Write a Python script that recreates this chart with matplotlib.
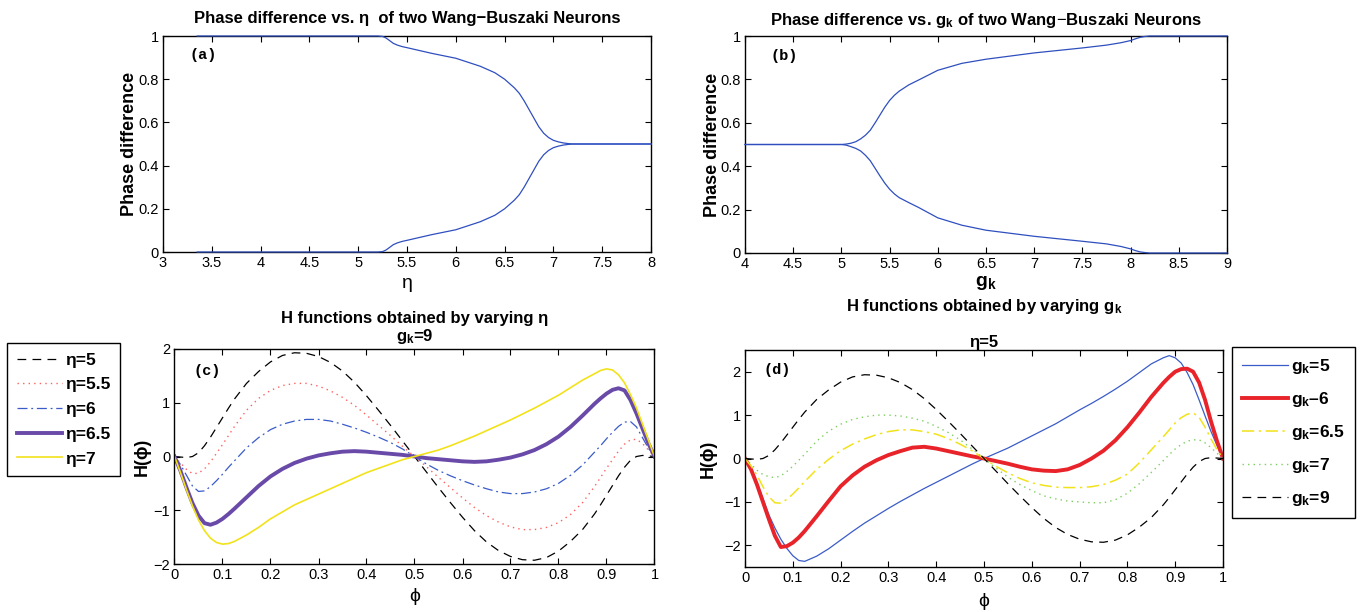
import numpy as np
import matplotlib
matplotlib.use("Agg")
import matplotlib.pyplot as plt
from matplotlib.ticker import FuncFormatter

plt.rcParams['font.family'] = ['Liberation Sans', 'DejaVu Sans']
plt.rcParams['mathtext.fontset'] = 'custom'
plt.rcParams['mathtext.rm'] = 'Liberation Sans'
plt.rcParams['mathtext.bf'] = 'Liberation Sans:bold'
plt.rcParams['mathtext.it'] = 'Liberation Sans:italic'

# ---- (a) phase difference vs eta ----
eta = [3.35, 4.0, 4.5, 5.0, 5.2, 5.25, 5.28, 5.3, 5.33, 5.36, 5.4, 5.45, 5.5, 5.75, 6.0,
       6.25, 6.4, 6.5, 6.6, 6.65, 6.7, 6.75, 6.8, 6.85, 6.9, 6.95, 7.0, 7.05, 7.1, 7.15,
       7.2, 7.5, 8.0]
eta_upper = [1, 1, 1, 1, 1, 0.998, 0.992, 0.986, 0.976, 0.966, 0.958, 0.951, 0.946, 0.92,
             0.897, 0.86, 0.83, 0.8, 0.76, 0.735, 0.7, 0.66, 0.62, 0.58, 0.55, 0.53, 0.517,
             0.51, 0.505, 0.502, 0.5, 0.5, 0.5]
eta_lower = [0, 0, 0, 0, 0, 0.002, 0.008, 0.014, 0.024, 0.034, 0.042, 0.049, 0.054, 0.08,
             0.103, 0.14, 0.17, 0.2, 0.24, 0.265, 0.3, 0.34, 0.38, 0.42, 0.45, 0.47, 0.483,
             0.49, 0.495, 0.498, 0.5, 0.5, 0.5]

# ---- (b) phase difference vs gk ----
gk = [4.0, 4.5, 5.0, 5.05, 5.1, 5.15, 5.2, 5.25, 5.3, 5.35, 5.4, 5.45, 5.5, 5.55, 5.6, 5.7,
      5.8, 6.0, 6.25, 6.5, 7.0, 7.5, 7.75, 7.9, 8.0, 8.05, 8.1, 8.15, 8.2, 8.5, 9.0]
gk_upper = [0.5, 0.5, 0.5, 0.502, 0.506, 0.513, 0.526, 0.543, 0.566, 0.6, 0.636, 0.672,
            0.703, 0.727, 0.746, 0.775, 0.797, 0.842, 0.874, 0.893, 0.922, 0.945, 0.958,
            0.969, 0.979, 0.987, 0.994, 0.998, 1, 1, 1]
gk_lower = [0.5, 0.5, 0.5, 0.497, 0.49, 0.482, 0.47, 0.45, 0.425, 0.39, 0.355, 0.322, 0.294,
            0.272, 0.255, 0.232, 0.21, 0.162, 0.128, 0.105, 0.077, 0.054, 0.042, 0.03, 0.019,
            0.011, 0.005, 0.002, 0, 0, 0]

# ---- H functions (finer sampling near the ends) ----
phi = [0, 0.0125, 0.025, 0.0375, 0.05, 0.0625, 0.075, 0.0875, 0.1, 0.1125, 0.125,
       0.15, 0.175, 0.2, 0.225, 0.25, 0.275, 0.3, 0.325, 0.35, 0.375, 0.4, 0.425, 0.45, 0.475,
       0.5, 0.525, 0.55, 0.575, 0.6, 0.625, 0.65, 0.675, 0.7, 0.725, 0.75, 0.775, 0.8, 0.825,
       0.85, 0.875, 0.8875, 0.9, 0.9125, 0.925, 0.9375, 0.95, 0.9625, 0.975, 0.9875, 1]

H_eta5 = [0, -0.01, -0.02, 0.0, 0.07, 0.2, 0.36, 0.54, 0.72, 0.9, 1.07,
          1.36, 1.58, 1.76, 1.88, 1.93, 1.92, 1.86, 1.75, 1.59, 1.38, 1.13, 0.86, 0.58, 0.29,
          0, -0.29, -0.58, -0.86, -1.13, -1.38, -1.59, -1.75, -1.86, -1.92, -1.93, -1.88, -1.76,
          -1.58, -1.36, -1.07, -0.9, -0.72, -0.54, -0.36, -0.2, -0.07, 0.0, 0.02, 0.01, 0]
H_eta55 = [0, -0.12, -0.24, -0.32, -0.31, -0.23, -0.1, 0.06, 0.22, 0.39, 0.56,
           0.86, 1.08, 1.23, 1.32, 1.36, 1.36, 1.31, 1.22, 1.1, 0.95, 0.77, 0.58, 0.39, 0.19,
           0, -0.19, -0.39, -0.58, -0.77, -0.95, -1.1, -1.22, -1.31, -1.36, -1.36, -1.32, -1.23,
           -1.08, -0.86, -0.56, -0.39, -0.22, -0.06, 0.1, 0.23, 0.31, 0.32, 0.24, 0.12, 0]
H_eta6 = [0, -0.15, -0.35, -0.55, -0.65, -0.64, -0.56, -0.45, -0.33, -0.2, -0.08,
          0.16, 0.35, 0.5, 0.6, 0.66, 0.69, 0.69, 0.66, 0.6, 0.53, 0.45, 0.36, 0.26, 0.14,
          0, -0.14, -0.26, -0.36, -0.45, -0.53, -0.6, -0.66, -0.69, -0.69, -0.66, -0.6, -0.5,
          -0.35, -0.16, 0.08, 0.2, 0.33, 0.45, 0.56, 0.64, 0.65, 0.55, 0.35, 0.15, 0]
H_eta65 = [0, -0.27, -0.58, -0.87, -1.1, -1.24, -1.27, -1.23, -1.16, -1.07, -0.97,
           -0.76, -0.55, -0.37, -0.23, -0.12, -0.04, 0.02, 0.06, 0.09, 0.1, 0.09, 0.07, 0.05,
           0.03, 0, -0.03, -0.05, -0.07, -0.09, -0.1, -0.09, -0.06, -0.02, 0.04, 0.12, 0.23,
           0.37, 0.55, 0.76, 0.98, 1.08, 1.17, 1.24, 1.27, 1.23, 1.05, 0.8, 0.52, 0.24, 0]
H_eta7 = [0, -0.3, -0.62, -0.92, -1.18, -1.38, -1.52, -1.6, -1.63, -1.62, -1.58,
          -1.46, -1.32, -1.16, -1.03, -0.9, -0.8, -0.7, -0.6, -0.5, -0.4, -0.3, -0.22, -0.14,
          -0.06, 0, 0.06, 0.12, 0.2, 0.29, 0.38, 0.48, 0.58, 0.68, 0.79, 0.9, 1.02, 1.14, 1.28,
          1.42, 1.54, 1.6, 1.63, 1.61, 1.52, 1.37, 1.15, 0.9, 0.6, 0.3, 0]

H_gk5 = [0, -0.26, -0.55, -0.92, -1.3, -1.6, -1.86, -2.07, -2.24, -2.35, -2.37,
         -2.25, -2.08, -1.88, -1.68, -1.49, -1.32, -1.15, -0.99, -0.84, -0.69, -0.55, -0.41,
         -0.27, -0.13, 0, 0.12, 0.24, 0.38, 0.52, 0.66, 0.8, 0.96, 1.12, 1.27, 1.43, 1.6, 1.78,
         1.98, 2.18, 2.32, 2.37, 2.32, 2.2, 1.98, 1.7, 1.35, 0.98, 0.62, 0.3, 0]
H_gk6 = [0, -0.25, -0.6, -1.0, -1.4, -1.78, -2.04, -2.02, -1.94, -1.82, -1.67,
         -1.33, -0.98, -0.64, -0.39, -0.19, -0.04, 0.08, 0.17, 0.25, 0.27, 0.23, 0.17, 0.11,
         0.05, 0, -0.06, -0.12, -0.19, -0.25, -0.28, -0.29, -0.25, -0.15, 0.0, 0.18, 0.42,
         0.72, 1.06, 1.42, 1.74, 1.88, 2.0, 2.06, 2.07, 2.0, 1.75, 1.35, 0.85, 0.4, 0]
H_gk65 = [0, -0.17, -0.38, -0.65, -0.88, -1.02, -1.03, -0.94, -0.82, -0.68, -0.53,
          -0.25, -0.02, 0.18, 0.33, 0.45, 0.55, 0.62, 0.66, 0.66, 0.62, 0.56, 0.46, 0.33, 0.18,
          0, -0.18, -0.33, -0.46, -0.56, -0.62, -0.66, -0.67, -0.67, -0.65, -0.6, -0.5, -0.36,
          -0.1, 0.2, 0.5, 0.66, 0.82, 0.94, 1.02, 1.05, 0.95, 0.72, 0.45, 0.2, 0]
H_gk7 = [0, -0.13, -0.27, -0.37, -0.42, -0.44, -0.4, -0.3, -0.18, -0.04, 0.1,
         0.4, 0.63, 0.79, 0.9, 0.96, 1.0, 1.0, 0.98, 0.93, 0.86, 0.74, 0.6, 0.43, 0.22,
         0, -0.22, -0.43, -0.6, -0.74, -0.86, -0.93, -0.98, -1.0, -1.02, -1.02, -0.95, -0.8,
         -0.58, -0.32, -0.05, 0.09, 0.22, 0.32, 0.4, 0.43, 0.43, 0.36, 0.25, 0.12, 0]
H_gk9 = H_eta5

W, Hgt = 1368, 612
fig = plt.figure(figsize=(13.68, 6.12), dpi=100)


def box(l, t, r, b):
    return [l / W, 1 - b / Hgt, (r - l) / W, (b - t) / Hgt]


fmt = FuncFormatter(lambda v, p: ('%g' % round(v, 6)).replace('-', '\u2212'))


def style(ax):
    ax.tick_params(direction='in', top=True, right=True, length=4, width=0.8,
                   labelsize=10.5, pad=3)
    for s in ax.spines.values():
        s.set_linewidth(1.0)
    ax.xaxis.set_major_formatter(fmt)
    ax.yaxis.set_major_formatter(fmt)


def labels(ax, xl, yl, xpos, ypos, xkw=None):
    ax.set_xlabel(xl, **(xkw or {}))
    ax.set_ylabel(yl, fontsize=13, fontweight='bold')
    ax.xaxis.set_label_coords(0.5, xpos)
    ax.yaxis.set_label_coords(ypos, 0.5)
    ax.xaxis.label.set_verticalalignment('center')
    ax.yaxis.label.set_verticalalignment('center')


line_blue = '#2f4fbf'

# (a)
ax1 = fig.add_axes(box(163, 36, 651, 252))
ax1.plot(eta, eta_upper, color=line_blue, lw=0.9, clip_on=False, zorder=3)
ax1.plot(eta, eta_lower, color=line_blue, lw=0.9, clip_on=False, zorder=3)
ax1.set_xlim(3, 8)
ax1.set_ylim(0, 1)
ax1.set_xticks(np.arange(3, 8.01, 0.5))
ax1.set_yticks(np.arange(0, 1.01, 0.2))
style(ax1)
labels(ax1, '\u03b7', 'Phase difference', -0.148, -0.068, {'fontsize': 14})
ax1.text(0.055, 0.91, '(a)', transform=ax1.transAxes, family='Liberation Mono',
         fontweight='bold', fontsize=11, va='center')
fig.text(407 / W, 1 - 18 / Hgt, 'Phase difference vs. \u03b7  of two Wang\u2212Buszaki Neurons',
         ha='center', va='center', fontsize=12, fontweight='bold')

# (b)
ax2 = fig.add_axes(box(745, 36, 1227, 253))
ax2.plot(gk, gk_upper, color=line_blue, lw=0.9, clip_on=False, zorder=3)
ax2.plot(gk, gk_lower, color=line_blue, lw=0.9, clip_on=False, zorder=3)
ax2.set_xlim(4, 9)
ax2.set_ylim(0, 1)
ax2.set_xticks(np.arange(4, 9.01, 0.5))
ax2.set_yticks(np.arange(0, 1.01, 0.2))
style(ax2)
labels(ax2, r'$\mathbf{g_k}$', 'Phase difference', -0.14, -0.068, {'fontsize': 14})
ax2.text(0.052, 0.91, '(b)', transform=ax2.transAxes, family='Liberation Mono',
         fontweight='bold', fontsize=11, va='center')
fig.text(986 / W, 1 - 20 / Hgt, r'Phase difference vs. $\mathbf{g_k}$ of two Wang$-$Buszaki Neurons',
         ha='center', va='center', fontsize=12, fontweight='bold')

# (c)
ax3 = fig.add_axes(box(174.5, 349, 654.5, 564))
c_black, = ax3.plot(phi, H_eta5, color='k', lw=0.9, ls=(0, (7, 5)))
c_red, = ax3.plot(phi, H_eta55, color='#ff6060', lw=1.0, ls=(0, (1, 3)))
c_blue, = ax3.plot(phi, H_eta6, color='#3a5cc8', lw=0.9, ls=(0, (8, 3, 1.5, 3)))
c_purp, = ax3.plot(phi, H_eta65, color='#6a4aa8', lw=2.8)
c_yel, = ax3.plot(phi, H_eta7, color='#f2e21a', lw=1.2)
ax3.set_xlim(0, 1)
ax3.set_ylim(-2, 2)
ax3.set_xticks(np.arange(0, 1.01, 0.1))
ax3.set_yticks([-2, -1, 0, 1, 2])
style(ax3)
labels(ax3, '\u03d5', 'H(\u03d5)', -0.153, -0.068, {'fontsize': 14})
ax3.text(0.039, 0.9, '(c)', transform=ax3.transAxes, family='Liberation Mono',
         fontweight='bold', fontsize=11, va='center')
fig.text(415 / W, 1 - 318 / Hgt, 'H functions obtained by varying \u03b7',
         ha='center', va='center', fontsize=12, fontweight='bold')
fig.text(415 / W, 1 - 337 / Hgt, r'$\mathbf{g_k}$=9',
         ha='center', va='center', fontsize=12, fontweight='bold')
leg3 = fig.legend([c_black, c_red, c_blue, c_purp, c_yel],
                  ['\u03b7=5', '\u03b7=5.5', '\u03b7=6', '\u03b7=6.5', '\u03b7=7'],
                  loc='upper left', bbox_to_anchor=(7 / W, 1 - 343 / Hgt),
                  prop={'weight': 'bold', 'size': 12.5}, fancybox=False, edgecolor='k',
                  framealpha=1, handlelength=2.6, handletextpad=0.2, labelspacing=0.55,
                  borderpad=0.55, borderaxespad=0)
leg3.get_frame().set_linewidth(1.0)

# (d)
ax4 = fig.add_axes(box(745, 350, 1223, 567))
d_blue, = ax4.plot(phi, H_gk5, color='#3a5cc8', lw=0.9)
d_red, = ax4.plot(phi, H_gk6, color='#e8232a', lw=2.8)
d_yel, = ax4.plot(phi, H_gk65, color='#f2e21a', lw=1.1, ls=(0, (8, 3, 1.5, 3)))
d_grn, = ax4.plot(phi, H_gk7, color='#7ccf5c', lw=1.0, ls=(0, (1, 3)))
d_black, = ax4.plot(phi, H_gk9, color='k', lw=0.9, ls=(0, (7, 5)))
ax4.set_xlim(0, 1)
ax4.set_ylim(-2.5, 2.5)
ax4.set_xticks(np.arange(0, 1.01, 0.1))
ax4.set_yticks([-2, -1, 0, 1, 2])
style(ax4)
labels(ax4, '\u03d5', 'H(\u03d5)', -0.157, -0.077, {'fontsize': 14})
ax4.text(0.038, 0.91, '(d)', transform=ax4.transAxes, family='Liberation Mono',
         fontweight='bold', fontsize=11, va='center')
fig.text(984 / W, 1 - 307 / Hgt, r'H functions obtained by varying $\mathbf{g_k}$',
         ha='center', va='center', fontsize=12, fontweight='bold')
fig.text(984 / W, 1 - 342 / Hgt, '\u03b7=5',
         ha='center', va='center', fontsize=12, fontweight='bold')
leg4 = fig.legend([d_blue, d_red, d_yel, d_grn, d_black],
                  [r'$\mathbf{g_k}$=5', r'$\mathbf{g_k}$–6', r'$\mathbf{g_k}$=6.5',
                   r'$\mathbf{g_k}$=7', r'$\mathbf{g_k}$=9'],
                  loc='upper left', bbox_to_anchor=(1232 / W, 1 - 347 / Hgt),
                  prop={'weight': 'bold', 'size': 12.5}, fancybox=False, edgecolor='k',
                  framealpha=1, handlelength=2.6, handletextpad=0.2, labelspacing=0.8,
                  borderpad=0.6, borderaxespad=0)
leg4.get_frame().set_linewidth(1.0)

fig.savefig('out.png', dpi=100)
